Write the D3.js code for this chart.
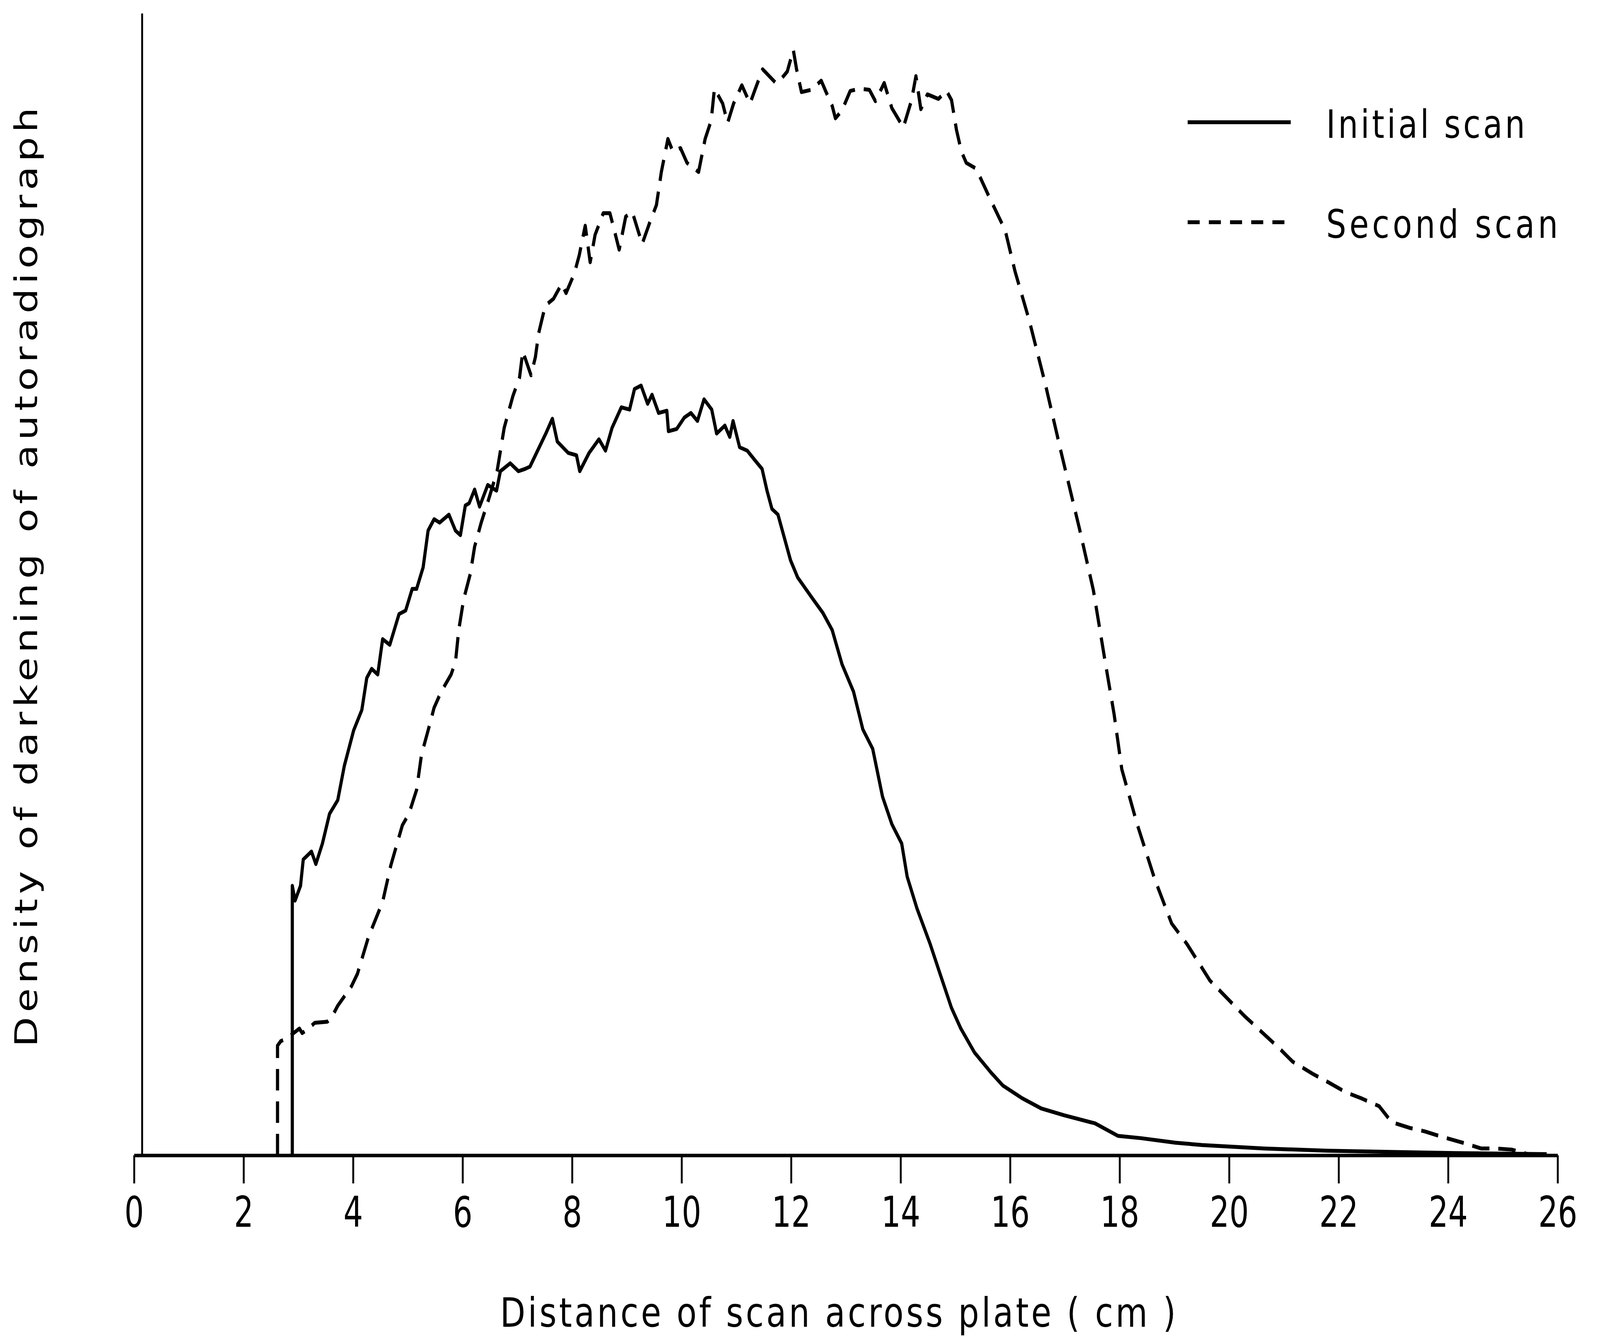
<!DOCTYPE html>
<html>
<head>
<meta charset="utf-8">
<script src="https://cdn.jsdelivr.net/npm/d3@7/dist/d3.min.js"></script>
<style>
  html, body { margin: 0; padding: 0; background: #fff; overflow: hidden; }
  svg { display: block; width: 100vw; height: 100vh; }
  text { font-family: "DejaVu Sans", sans-serif; fill: #000; }
</style>
</head>
<body>
<div class="panel"></div>
<script>
// values (x in cm, density in arbitrary units 0-100)
const xTicks = [0, 2, 4, 6, 8, 10, 12, 14, 16, 18, 20, 22, 24, 26];

const initialCm = [2.89, 2.89, 2.94, 3.04, 3.09, 3.24, 3.32, 3.44, 3.57, 3.72, 3.84, 4.01, 4.16, 4.25, 4.34, 4.45,
  4.54, 4.67, 4.84, 4.96, 5.08, 5.16, 5.28, 5.37, 5.48, 5.58, 5.75, 5.87, 5.96, 6.05, 6.12, 6.22, 6.31, 6.46,
  6.62, 6.69, 6.87, 7.02, 7.14, 7.23, 7.40, 7.52, 7.64, 7.73, 7.93, 8.08, 8.14, 8.31, 8.49, 8.61, 8.73, 8.90,
  9.05, 9.14, 9.26, 9.38, 9.46, 9.58, 9.73, 9.76, 9.91, 10.05, 10.17, 10.29, 10.41, 10.55, 10.64, 10.79, 10.88,
  10.94, 11.06, 11.20, 11.35, 11.47, 11.56, 11.65, 11.76, 11.99, 12.12, 12.37, 12.58, 12.75, 12.93, 13.14, 13.31,
  13.49, 13.67, 13.84, 14.02, 14.12, 14.30, 14.54, 14.72, 14.93, 15.10, 15.35, 15.66, 15.87, 16.22, 16.57, 16.99,
  17.55, 17.97, 18.39, 19.02, 19.51, 20.63, 21.80, 24.10, 25.80];
const initialDensity = [0, 23.6, 22.3, 23.6, 25.9, 26.6, 25.5, 27.3, 29.9, 31.1, 34.1, 37.2, 39.0, 41.8, 42.6, 42.1,
  45.2, 44.7, 47.4, 47.7, 49.6, 49.6, 51.5, 54.7, 55.7, 55.4, 56.1, 54.7, 54.3, 56.9, 57.1, 58.3, 56.8, 58.7,
  58.2, 59.9, 60.6, 59.9, 60.1, 60.3, 62.0, 63.2, 64.5, 62.5, 61.5, 61.3, 59.9, 61.5, 62.7, 61.7, 63.7, 65.5,
  65.3, 67.1, 67.4, 65.8, 66.6, 65.0, 65.2, 63.4, 63.6, 64.6, 65.0, 64.3, 66.2, 65.3, 63.2, 63.9, 62.9,
  64.3, 62.0, 61.7, 60.8, 60.1, 58.2, 56.6, 56.1, 52.1, 50.6, 48.9, 47.5, 46.0, 43.0, 40.6, 37.3,
  35.6, 31.4, 29.0, 27.3, 24.4, 21.6, 18.5, 15.9, 12.9, 11.1, 9.0, 7.2, 6.1, 5.0, 4.1, 3.5,
  2.8, 1.7, 1.5, 1.1, 0.9, 0.6, 0.4, 0.2, 0.1];

const secondCm = [2.62, 2.62, 2.68, 2.78, 3.02, 3.07, 3.16, 3.30, 3.53, 3.61, 3.72, 3.97, 4.08, 4.28, 4.54, 4.69,
  4.90, 5.02, 5.16, 5.25, 5.37, 5.48, 5.61, 5.79, 5.87, 5.93, 6.02, 6.14, 6.22, 6.34, 6.48, 6.63, 6.76, 6.92,
  7.04, 7.10, 7.25, 7.33, 7.39, 7.51, 7.66, 7.81, 7.89, 8.04, 8.13, 8.24, 8.33, 8.42, 8.57, 8.69, 8.75, 8.86,
  8.98, 9.10, 9.28, 9.42, 9.54, 9.63, 9.75, 9.84, 9.98, 10.10, 10.31, 10.43, 10.54, 10.60, 10.75, 10.84, 10.95,
  11.10, 11.25, 11.34, 11.48, 11.72, 11.81, 11.93, 12.04, 12.10, 12.19, 12.37, 12.55, 12.63, 12.75, 12.81, 12.93,
  13.08, 13.25, 13.43, 13.54, 13.70, 13.84, 14.05, 14.20, 14.28, 14.37, 14.49, 14.69, 14.84, 14.93, 15.02, 15.11,
  15.20, 15.38, 15.61, 15.91, 16.09, 16.35, 16.64, 16.93, 17.27, 17.52, 17.73, 17.90, 18.04, 18.32, 18.64, 18.95,
  19.23, 19.65, 20.28, 20.91, 21.16, 21.54, 21.81, 22.14, 22.41, 22.74, 22.97, 23.30, 23.57, 23.90, 24.27, 24.60,
  24.87, 25.16, 25.53];
const secondDensity = [0, 9.6, 10.0, 10.2, 11.1, 10.7, 11.0, 11.6, 11.7, 12.1, 13.1, 14.8, 15.9, 19.1, 22.2, 25.4,
  28.9, 29.9, 32.0, 35.1, 37.2, 39.2, 40.6, 42.1, 43.2, 46.0, 48.7, 50.9, 53.3, 55.4, 57.5, 59.9, 63.7, 66.5,
  68.1, 70.4, 68.3, 69.9, 72.0, 74.4, 75.0, 76.3, 75.5, 77.2, 78.8, 81.4, 78.2, 80.6, 82.5, 82.5, 81.4, 79.3,
  82.2, 82.6, 79.8, 81.7, 83.2, 86.1, 89.0, 87.9, 88.2, 86.9, 86.1, 89.0, 90.6, 93.4, 92.1, 90.4, 92.1,
  93.7, 92.1, 93.3, 95.1, 93.9, 94.2, 94.9, 96.8, 95.1, 93.1, 93.3, 94.1, 93.2, 91.9, 90.8, 91.5,
  93.2, 93.4, 93.3, 92.3, 93.9, 91.7, 90.0, 92.4, 94.5, 91.6, 92.9, 92.5, 93.2, 92.4, 89.8, 87.9,
  86.9, 86.4, 84.0, 81.0, 77.4, 73.1, 67.6, 61.6, 54.8, 49.5, 43.4, 38.6, 33.8, 29.0, 24.2, 20.3,
  18.5, 15.3, 12.2, 9.4, 8.2, 7.1, 6.4, 5.5, 5.0, 4.3, 2.9, 2.4, 2.1, 1.6, 1.1, 0.6,
  0.6, 0.5, 0];

const seriesNames = ["Initial scan", "Second scan"];

const width = 5060;
const height = 3436;

// drawn in a 5060x3436 frame, stretched to whatever the window is
const svg = d3.select(".panel")
    .append("svg")
    .attr("viewBox", `0 0 ${width} ${height}`)
    .attr("preserveAspectRatio", "none");

svg.append("rect").attr("width", width).attr("height", height).attr("fill", "#fff");

const x = d3.scaleLinear().domain([0, 26]).range([424, 4926]);
const y = d3.scaleLinear().domain([0, 100]).range([2958, 34]);

// x axis
const xAxis = svg.append("g")
    .attr("transform", `translate(0, ${y(0)})`)
    .call(d3.axisBottom(x).tickValues(xTicks).tickSize(72).tickSizeOuter(0).tickPadding(34));

xAxis.select(".domain").attr("stroke", "#000").attr("stroke-width", 9);
xAxis.selectAll(".tick line").attr("stroke", "#000").attr("stroke-width", 6);
xAxis.selectAll(".tick text")
    .attr("font-size", 108)
    .attr("font-family", "DejaVu Sans")
    .style("font-stretch", "condensed")
    .attr("fill", "#000");

// y axis: bare line, no ticks
const yAxis = svg.append("g")
    .attr("transform", `translate(${x(0) + 25}, 0)`)
    .call(d3.axisLeft(y).tickValues([]).tickSizeOuter(0));
yAxis.select(".domain").attr("stroke", "#000").attr("stroke-width", 6);

// curves
const line = d3.line()
    .x(d => x(d[0]))
    .y(d => y(d[1]));

svg.append("path")
    .datum(d3.zip(initialCm, initialDensity))
    .attr("d", line)
    .attr("fill", "none")
    .attr("stroke", "#000")
    .attr("stroke-width", 10)
    .attr("stroke-linejoin", "round");

svg.append("path")
    .datum(d3.zip(secondCm, secondDensity))
    .attr("d", line)
    .attr("fill", "none")
    .attr("stroke", "#000")
    .attr("stroke-width", 10)
    .attr("stroke-dasharray", "55,28")
    .attr("stroke-linejoin", "round");

// axis titles
svg.append("text")
    .attr("x", 2650)
    .attr("y", 3397)
    .attr("text-anchor", "middle")
    .attr("font-size", 104)
    .attr("textLength", 2137)
    .attr("lengthAdjust", "spacing")
    .text("Distance  of  scan  across  plate  ( cm )");

svg.append("text")
    .attr("transform", "translate(117, 1478) rotate(-90)")
    .attr("text-anchor", "middle")
    .attr("font-size", 100)
    .attr("textLength", 2405)
    .attr("lengthAdjust", "spacing")
    .text("Density  of  darkening  of  autoradiograph");

// legend
const legend = svg.append("g");
const legendRows = legend.selectAll("g")
    .data(seriesNames)
    .enter()
    .append("g")
    .attr("transform", (d, i) => `translate(3756, ${313 + i * 256})`);

legendRows.append("line")
    .attr("x1", 0)
    .attr("x2", 326)
    .attr("stroke", "#000")
    .attr("stroke-width", 10)
    .attr("stroke-dasharray", (d, i) => i === 1 ? "38,29" : null);

legendRows.append("text")
    .attr("x", 438)
    .attr("y", 40)
    .attr("font-size", 100)
    .attr("textLength", (d, i) => i === 0 ? 629 : 733)
    .attr("lengthAdjust", "spacing")
    .text(d => d.replace(" ", "  "));
</script>
</body>
</html>
